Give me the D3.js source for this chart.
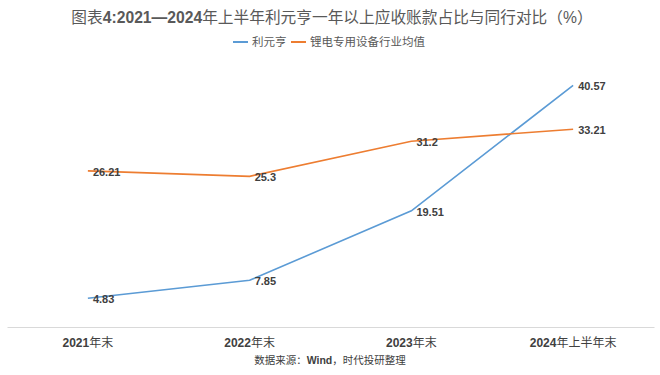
<!DOCTYPE html>
<html>
<head>
<meta charset="utf-8">
<script src="https://cdn.jsdelivr.net/npm/d3@7"></script>
<style>
  body { margin: 0; background: #fff; }
  text { font-family: "Liberation Sans", "Noto Sans CJK SC", sans-serif; }
</style>
</head>
<body>
<div id="chart"></div>
<script>
// 数据
const categories = ["2021年末", "2022年末", "2023年末", "2024年上半年末"];
const seriesNames = ["利元亨", "锂电专用设备行业均值"];
const liyuanheng = [4.83, 7.85, 19.51, 40.57];
const industryAvg = [26.21, 25.3, 31.2, 33.21];
const colors = ["#5B9BD5", "#ED7D31"];

const W = 660, H = 375;
const margin = { top: 59, right: 6, bottom: 48, left: 7 };
const width = W - margin.left - margin.right,
      height = H - margin.top - margin.bottom;

const svg = d3.select("#chart").append("svg")
    .attr("width", W)
    .attr("height", H);

const g = svg.append("g")
    .attr("transform", `translate(${margin.left},${margin.top})`);

const x = d3.scaleBand().domain(categories).range([0, width]);
const y = d3.scaleLinear().domain([0, 45]).range([height, 0]);

// 标题
const title = svg.append("text")
    .attr("x", W / 2 + 2).attr("y", 23)
    .attr("text-anchor", "middle")
    .attr("fill", "#595959")
    .style("font-size", "15.7px");
title.append("tspan").text("图表");
title.append("tspan").attr("font-weight", "bold").text("4:2021—2024");
title.append("tspan").text("年上半年利元亨一年以上应收账款占比与同行对比（%）");

// 图例
const legend = svg.append("g").attr("transform", "translate(233,42)");
const legendX = [0, 58];
seriesNames.forEach((name, i) => {
    const row = legend.append("g").attr("transform", `translate(${legendX[i]},0)`);
    row.append("line")
        .attr("x1", 0).attr("x2", 15)
        .attr("stroke", colors[i]).attr("stroke-width", 2);
    row.append("text")
        .attr("x", 19).attr("y", 4)
        .attr("fill", "#595959")
        .style("font-size", "11.5px")
        .text(name);
});

// x轴
const xAxis = g.append("g")
    .attr("transform", `translate(0,${height})`)
    .call(d3.axisBottom(x).tickSize(0).tickPadding(11));
xAxis.select(".domain").attr("stroke", "#d9d9d9");
xAxis.selectAll(".tick text")
    .attr("fill", "#404040")
    .style("font-size", "12px")
    .each(function(d) {
        const t = d3.select(this).text("");
        const m = d.match(/^(\d+)(.*)$/);
        t.append("tspan").attr("font-weight", "bold").text(m[1]);
        t.append("tspan").text(m[2]);
    });

// 折线
const line = d3.line()
    .x((d, i) => x(categories[i]) + x.bandwidth() / 2)
    .y(d => y(d));

[liyuanheng, industryAvg].forEach((vals, s) => {
    g.append("path")
        .datum(vals)
        .attr("fill", "none")
        .attr("stroke", colors[s])
        .attr("stroke-width", 1.6)
        .attr("d", line);

    g.selectAll(null)
        .data(vals)
        .join("text")
        .attr("x", (d, i) => x(categories[i]) + x.bandwidth() / 2 + 5)
        .attr("y", d => y(d) + 5)
        .attr("fill", "#404040")
        .attr("font-weight", "bold")
        .style("font-size", "11px")
        .text(d => d);
});

// 数据来源
const src = svg.append("text")
    .attr("x", W / 2).attr("y", 364)
    .attr("text-anchor", "middle")
    .attr("fill", "#404040")
    .style("font-size", "10.5px");
src.append("tspan").text("数据来源：");
src.append("tspan").attr("font-weight", "bold").text("Wind");
src.append("tspan").text("，时代投研整理");
</script>
</body>
</html>
